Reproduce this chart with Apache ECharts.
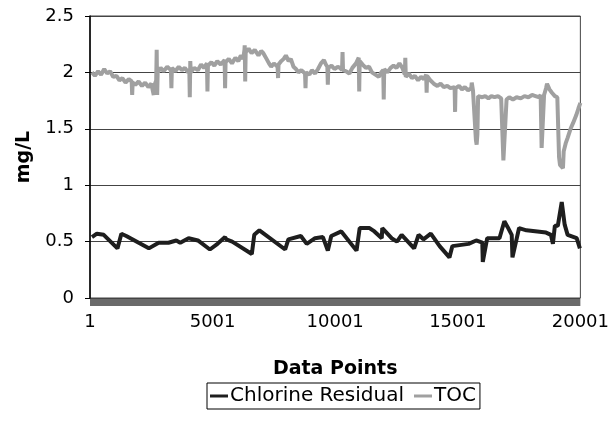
<!DOCTYPE html>
<html>
<head>
<meta charset="utf-8">
<script src="https://cdn.jsdelivr.net/npm/echarts@6/dist/echarts.min.js"></script>
<style>html,body{margin:0;padding:0;background:#fff}#c{width:612px;height:429px}</style>
</head>
<body>
<div id="c"></div>
<script>
// Data point index (x) and value (mg/L)
var tocX = [80,200,330,450,580,700,820,950,1080,1200,1320,1450,1580,1700,1720,1740,1850,1980,2120,2250,2380,2500,2600,2620,2700,2720,2740,2760,
  2880,3000,3150,3300,3320,3340,3480,3620,3750,3870,4000,4050,4070,4090,4110,4250,4400,4530,4650,4770,4790,4810,4950,5070,5190,5330,5490,5510,5530,5660,5790,5930,6050,6150,6250,6300,6310,6330,6350,
  6470,6590,6720,6870,6980,7070,7200,7300,7390,7500,7650,7670,7690,7800,7900,7990,8100,8190,8300,8400,8500,8620,8770,8790,8810,8950,9050,9180,
  9300,9420,9540,9620,9680,9700,9720,9850,9970,10100,10200,10280,10300,10320,10450,10580,10700,10850,10960,10980,11000,11120,11250,11380,11500,11640,11780,11880,11960,11980,12000,12130,12260,12380,12500,12620,12740,12840,12860,12880,13000,13130,13250,13380,13500,13620,13710,13730,13750,13880,14020,14170,14300,14430,14570,14700,14870,14890,14910,15050,15170,15290,15420,15550,15570,15620,15700,15740,15770,15800,15830,
  15890,16000,16120,16250,16370,16500,16640,16770,16840,16860,16940,16990,17100,17250,17400,17570,17720,17880,18030,18170,18300,18380,18420,18470,18520,18600,18640,18740,18840,18960,19060,19100,19130,19170,19290,19320,19400,19480,19600,19700,19830,19920,20000];
var tocY = [2.00,1.97,2.01,1.98,2.03,1.99,2.01,1.96,1.97,1.93,1.95,1.91,1.94,1.92,1.80,1.91,1.89,1.92,1.88,1.91,1.87,1.90,1.80,1.88,1.93,2.20,1.80,2.00,
  2.04,2.01,2.05,2.02,1.86,2.04,2.01,2.05,2.02,2.04,2.00,2.03,1.78,2.10,2.00,2.04,2.02,2.07,2.04,2.08,1.83,2.06,2.09,2.06,2.10,2.07,2.11,1.86,2.09,2.12,2.08,2.13,2.10,2.15,2.12,2.20,2.24,1.92,2.18,
  2.21,2.17,2.20,2.15,2.19,2.17,2.12,2.08,2.05,2.08,2.05,1.95,2.07,2.10,2.12,2.15,2.10,2.12,2.05,2.03,2.00,2.02,1.99,1.86,2.00,1.98,2.02,1.99,
  2.03,2.08,2.11,2.07,2.05,1.89,2.04,2.06,2.03,2.05,2.04,2.02,2.18,2.02,2.01,1.99,2.04,2.08,2.13,1.83,2.10,2.07,2.04,2.05,2.00,1.98,1.96,2.00,2.02,1.76,2.03,2.00,2.04,2.06,2.04,2.08,2.04,1.98,2.13,1.96,1.99,1.95,1.97,1.93,1.96,1.94,1.98,1.82,1.97,1.93,1.90,1.88,1.90,1.87,1.88,1.86,1.87,1.65,1.86,1.88,1.85,1.87,1.84,1.86,1.91,1.84,1.83,1.40,1.36,1.45,1.79,
  1.80,1.78,1.79,1.77,1.79,1.78,1.79,1.77,1.78,1.22,1.22,1.76,1.78,1.76,1.78,1.77,1.79,1.78,1.80,1.79,1.78,1.80,1.33,1.33,1.80,1.86,1.90,1.85,1.82,1.79,1.78,1.78,1.25,1.18,1.15,1.30,1.37,1.42,1.50,1.55,1.62,1.68,1.73];
var clX = [80,280,560,1120,1280,1480,2400,2800,3200,3520,3680,4020,4400,4890,5200,5510,5560,5800,6600,6700,6910,7960,8090,8600,8840,9180,9500,9700,9840,10250,10870,11000,11400,11600,11900,11920,12300,12520,12710,13220,13400,13600,13900,14260,14660,14780,15440,15750,16000,16020,16200,16300,16700,16900,17030,17200,17230,17500,17800,18600,18800,18880,18960,19080,19240,19360,19480,19850,19980];
var clY = [0.54,0.57,0.56,0.44,0.57,0.55,0.44,0.49,0.49,0.51,0.49,0.53,0.51,0.43,0.48,0.54,0.52,0.50,0.39,0.56,0.60,0.43,0.52,0.55,0.48,0.53,0.54,0.42,0.55,0.59,0.42,0.62,0.62,0.59,0.53,0.62,0.53,0.50,0.56,0.44,0.56,0.52,0.57,0.46,0.36,0.46,0.48,0.51,0.49,0.32,0.53,0.53,0.53,0.68,0.63,0.56,0.36,0.62,0.60,0.58,0.56,0.48,0.64,0.64,0.85,0.65,0.56,0.53,0.44];
var xTickLabels = ['1','5001','10001','15001','20001'];
var yTickLabels = ['0','0.5','1','1.5','2','2.5'];
var seriesNames = ['Chlorine Residual','TOC'];

function pairs(xs, ys){ return xs.map(function(x,i){ return [x, ys[i]]; }); }

var chart = echarts.init(document.getElementById('c'), null, {renderer:'canvas'});
var font = 'DejaVu Sans, sans-serif';
chart.setOption({
  animation:false,
  backgroundColor:'#fff',
  grid:{left:90, right:21, top:16, bottom:131, show:true, borderColor:'#444', borderWidth:1},
  legend:{
    data:seriesNames,
    left:207, top:383,
    orient:'horizontal',
    borderColor:'#000', borderWidth:1, padding:[3,4,3,3],
    itemGap:10, itemWidth:18, itemHeight:3, icon:'rect',
    textStyle:{fontFamily:font, fontSize:20, color:'#000', padding:[0,0,0,-3]}
  },
  xAxis:{
    type:'value', min:0, max:20000, interval:5000,
    name:'Data Points', nameLocation:'middle', nameGap:58, offset:4,
    nameTextStyle:{fontFamily:font, fontSize:19, fontWeight:'bold', color:'#000'},
    axisLine:{show:true, onZero:false, lineStyle:{color:'#6a6a6a', width:7, cap:'butt'}},
    axisTick:{show:false},
    splitLine:{show:false},
    axisLabel:{fontFamily:font, fontSize:18, color:'#000', margin:11, showMaxLabel:true,
      formatter:function(v){ return xTickLabels[Math.round(v/5000)]; }}
  },
  yAxis:{
    type:'value', min:0, max:2.5, interval:0.5,
    name:'mg/L', nameLocation:'middle', nameGap:56, nameRotate:90,
    nameTextStyle:{fontFamily:font, fontSize:19, fontWeight:'bold', color:'#000'},
    axisLine:{show:true, lineStyle:{color:'#000', width:1.5}},
    axisTick:{show:true, length:5, lineStyle:{color:'#000'}},
    splitLine:{show:true, lineStyle:{color:'#444', width:1}},
    axisLabel:{fontFamily:font, fontSize:18, color:'#000', margin:16,
      formatter:function(v){ return yTickLabels[Math.round(v/0.5)]; }}
  },
  series:[
    {name:seriesNames[0], type:'line', data:pairs(clX, clY), symbol:'none',
     lineStyle:{color:'#1e1e1e', width:4}, itemStyle:{color:'#1e1e1e'}, z:3},
    {name:seriesNames[1], type:'line', data:pairs(tocX, tocY), symbol:'none',
     lineStyle:{color:'#a0a0a0', width:4}, itemStyle:{color:'#a0a0a0'}, z:2}
  ]
});
</script>
</body>
</html>
